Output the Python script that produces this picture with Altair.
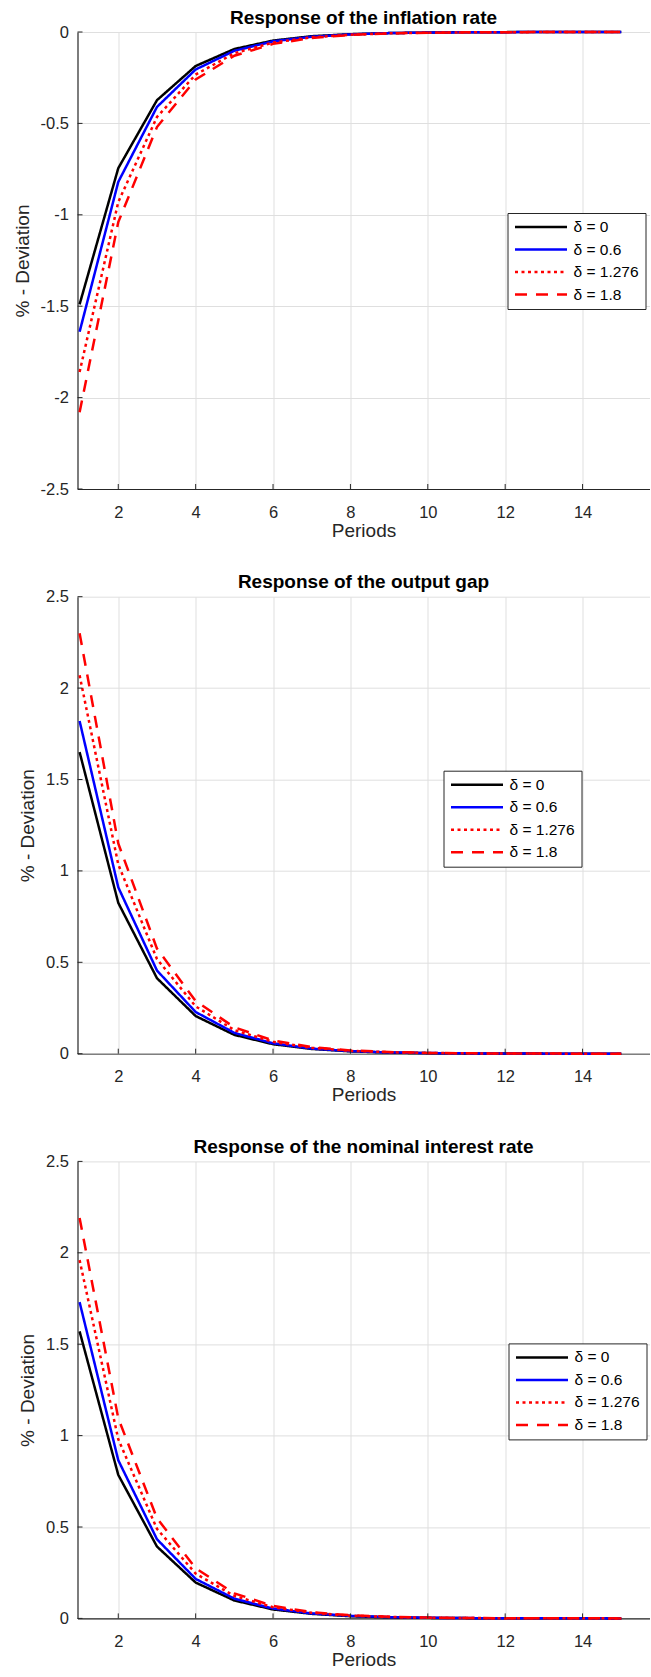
import altair as alt
import pandas as pd

# Impulse responses over 15 periods for four values of delta
periods = list(range(1, 16))
delta_labels = ["δ = 0", "δ = 0.6", "δ = 1.276", "δ = 1.8"]
line_colors = ["#000000", "#0000ff", "#ff0000", "#ff0000"]
line_dashes = [[1, 0], [1, 0], [3, 3.5], [12, 9]]

# Inflation rate
infl_d0 = [-1.49, -0.745, -0.373, -0.186, -0.093, -0.047, -0.023, -0.012, -0.006, -0.003, -0.0015, -0.0007, -0.0004, -0.0002, -0.0001]
infl_d06 = [-1.64, -0.82, -0.41, -0.205, -0.103, -0.051, -0.026, -0.013, -0.006, -0.003, -0.0016, -0.0008, -0.0004, -0.0002, -0.0001]
infl_d1276 = [-1.86, -0.93, -0.465, -0.233, -0.116, -0.058, -0.029, -0.015, -0.007, -0.004, -0.0018, -0.0009, -0.0005, -0.0002, -0.0001]
infl_d18 = [-2.08, -1.04, -0.52, -0.26, -0.13, -0.065, -0.033, -0.016, -0.008, -0.004, -0.002, -0.001, -0.0005, -0.0003, -0.0001]

# Output gap
gap_d0 = [1.65, 0.825, 0.413, 0.206, 0.103, 0.052, 0.026, 0.013, 0.006, 0.003, 0.0016, 0.0008, 0.0004, 0.0002, 0.0001]
gap_d06 = [1.82, 0.91, 0.455, 0.228, 0.114, 0.057, 0.028, 0.014, 0.007, 0.0036, 0.0018, 0.0009, 0.0004, 0.0002, 0.0001]
gap_d1276 = [2.07, 1.035, 0.518, 0.259, 0.129, 0.065, 0.032, 0.016, 0.008, 0.004, 0.002, 0.001, 0.0005, 0.0003, 0.0001]
gap_d18 = [2.30, 1.15, 0.575, 0.288, 0.144, 0.072, 0.036, 0.018, 0.009, 0.0045, 0.0022, 0.0011, 0.0006, 0.0003, 0.0001]

# Nominal interest rate
rate_d0 = [1.57, 0.785, 0.393, 0.196, 0.098, 0.049, 0.025, 0.012, 0.006, 0.003, 0.0015, 0.0008, 0.0004, 0.0002, 0.0001]
rate_d06 = [1.73, 0.865, 0.433, 0.216, 0.108, 0.054, 0.027, 0.014, 0.007, 0.0034, 0.0017, 0.0008, 0.0004, 0.0002, 0.0001]
rate_d1276 = [1.96, 0.98, 0.49, 0.245, 0.123, 0.061, 0.031, 0.015, 0.008, 0.0038, 0.0019, 0.001, 0.0005, 0.0002, 0.0001]
rate_d18 = [2.19, 1.095, 0.548, 0.274, 0.137, 0.068, 0.034, 0.017, 0.009, 0.0043, 0.0021, 0.0011, 0.0005, 0.0003, 0.0001]

x_ticks = [2, 4, 6, 8, 10, 12, 14]
neg_ticks = [0, -0.5, -1, -1.5, -2, -2.5]
pos_ticks = [0, 0.5, 1, 1.5, 2, 2.5]

W, H = 572, 457
FONT = "Liberation Sans"
AX = "#262626"
LEG_FS = 15.5


def long_frame(series):
    rows = []
    for lab, vals in zip(delta_labels, series):
        for p, v in zip(periods, vals):
            rows.append({"period": p, "value": v, "delta": lab})
    return pd.DataFrame(rows)


def panel(title, series, y_domain, y_ticks, leg_x, leg_y, title_x, base_color):
    xs = alt.Scale(domain=[0.946, 15.73], nice=False, zero=False)
    ys = alt.Scale(domain=y_domain, nice=False, zero=False)
    x_axis = alt.Axis(
        values=x_ticks, title="Periods", grid=True, ticks=False,
        labelPadding=15, titleY=41, titleBaseline="middle",
        domainColor=base_color, domainWidth=1.6 if base_color != AX else 1.2,
    )
    y_axis = alt.Axis(
        values=y_ticks, title="% - Deviation", grid=True, ticks=False,
        labelPadding=9, titleX=title_x, titleBaseline="middle",
        labelExpr="datum.value < 0 ? '-' + format(-datum.value, '') : format(datum.value, '')",
    )
    legend = alt.Legend(
        title=None, orient="none", legendX=leg_x, legendY=leg_y,
        symbolType="stroke", symbolSize=2704, symbolStrokeWidth=2.5,
        labelFont=FONT, labelFontSize=LEG_FS, labelColor="black",
        strokeColor=AX, fillColor="white", padding=6, rowPadding=5.5,
        labelOffset=5, clipHeight=16, labelLimit=200,
    )
    lines = alt.Chart(long_frame(series)).mark_line(strokeWidth=2.5).encode(
        x=alt.X("period:Q", scale=xs, axis=x_axis),
        y=alt.Y("value:Q", scale=ys, axis=y_axis),
        color=alt.Color("delta:N", scale=alt.Scale(domain=delta_labels, range=line_colors), legend=legend),
        strokeDash=alt.StrokeDash("delta:N", scale=alt.Scale(domain=delta_labels, range=line_dashes), legend=legend),
    )
    # inward tick marks on the bottom and left axes
    xt = alt.Chart(pd.DataFrame({"t": x_ticks})).mark_rule(color=AX, strokeWidth=1).encode(
        x=alt.X("t:Q", scale=xs, axis=x_axis), y=alt.value(H), y2=alt.value(H - 5))
    yt = alt.Chart(pd.DataFrame({"t": y_ticks})).mark_rule(color=AX, strokeWidth=1).encode(
        y=alt.Y("t:Q", scale=ys, axis=y_axis), x=alt.value(0), x2=alt.value(5))
    return alt.layer(lines, xt, yt).properties(
        width=W, height=H,
        title=alt.TitleParams(text=title, font=FONT, fontSize=19, fontWeight="bold",
                              color="black", anchor="middle", offset=-3.5),
    )


p1 = panel("Response of the inflation rate",
           [infl_d0, infl_d06, infl_d1276, infl_d18], [-2.5, 0], neg_ticks,
           430, 181, -55.3, AX)
p2 = panel("Response of the output gap",
           [gap_d0, gap_d06, gap_d1276, gap_d18], [0, 2.5], pos_ticks,
           366, 174, -49.6, "#7f7f7f")
p3 = panel("Response of the nominal interest rate",
           [rate_d0, rate_d06, rate_d1276, rate_d18], [0, 2.5], pos_ticks,
           431, 182, -49.6, AX)

chart = alt.vconcat(p1, p2, p3, spacing=107.7, bounds="flush").resolve_legend(
    color="independent", strokeDash="independent"
).properties(
    padding={"left": 12.5, "top": 8, "right": 0, "bottom": 0},
    background="white",
).configure_view(stroke=None).configure_axis(
    gridColor="#dfdfdf", gridWidth=1, domainColor=AX, domainWidth=1.2,
    labelFont=FONT, labelFontSize=16.5, labelColor=AX,
    titleFont=FONT, titleFontSize=19, titleFontWeight="normal", titleColor=AX,
).configure_legend(
    labelFont=FONT, labelFontSize=LEG_FS, labelColor="black",
)

chart.save("out.html", embed_options={"renderer": "svg", "actions": False})
